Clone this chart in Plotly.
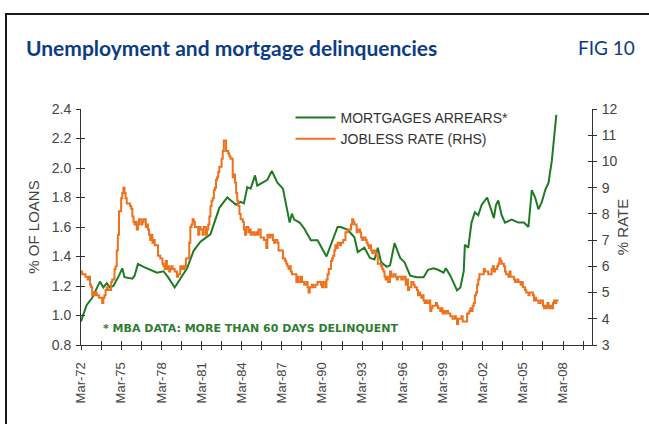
import pandas as pd
import plotly.graph_objects as go

# MBA mortgages more than 60 days delinquent, % of loans (quarterly-ish readings)
arrears_dates = [
    "1972-03", "1972-08", "1973-01", "1973-03", "1973-08", "1973-11", "1974-02", "1974-05",
    "1974-08", "1975-01", "1975-04", "1975-06", "1976-01", "1976-03", "1976-06", "1976-11",
    "1977-05", "1977-11", "1978-05", "1978-09", "1979-03", "1979-08", "1980-02", "1980-08",
    "1981-02", "1981-09", "1981-11", "1982-07", "1983-02", "1983-10", "1984-02", "1984-05",
    "1984-08", "1984-11", "1985-03", "1985-05", "1985-10", "1986-02", "1986-06", "1986-11",
    "1987-04", "1987-07", "1987-10", "1987-12", "1988-02", "1988-07", "1988-11", "1989-05",
    "1989-11", "1990-07", "1991-01", "1991-05", "1991-08", "1992-02", "1992-08", "1992-11",
    "1993-05", "1993-10", "1994-02", "1994-05", "1994-08", "1995-01", "1995-04", "1995-08",
    "1996-01", "1996-05", "1996-10", "1997-04", "1997-10", "1998-02", "1998-07", "1998-11",
    "1999-04", "1999-06", "1999-10", "2000-04", "2000-07", "2000-10", "2000-11", "2001-02",
    "2001-05", "2001-08", "2001-11", "2002-02", "2002-07", "2002-11", "2003-01", "2003-03",
    "2003-05", "2003-08", "2003-11", "2004-05", "2004-11", "2005-04", "2005-08", "2005-11",
    "2006-02", "2006-05", "2006-08", "2006-11", "2007-02", "2007-05", "2007-07", "2007-09",
]
arrears_pct = [
    0.96, 1.07, 1.12, 1.15, 1.23, 1.19, 1.22, 1.19,
    1.20, 1.27, 1.32, 1.26, 1.25, 1.27, 1.35, 1.33,
    1.31, 1.29, 1.30, 1.26, 1.19, 1.25, 1.32, 1.44,
    1.50, 1.54, 1.55, 1.73, 1.80, 1.75, 1.77, 1.76,
    1.87, 1.86, 1.95, 1.88, 1.90, 1.92, 1.98, 1.90,
    1.86, 1.75, 1.63, 1.69, 1.65, 1.63, 1.59, 1.51,
    1.51, 1.40, 1.53, 1.60, 1.60, 1.58, 1.53, 1.43,
    1.46, 1.39, 1.38, 1.46, 1.36, 1.33, 1.34, 1.49,
    1.39, 1.36, 1.27, 1.26, 1.26, 1.31, 1.32, 1.31,
    1.29, 1.32, 1.27, 1.17, 1.19, 1.30, 1.48, 1.46,
    1.63, 1.70, 1.68, 1.75, 1.80, 1.70, 1.66, 1.75,
    1.78, 1.68, 1.63, 1.65, 1.63, 1.63, 1.60, 1.85,
    1.80, 1.72, 1.77, 1.85, 1.90, 2.05, 2.20, 2.36,
]

# Jobless rate, % (monthly, Mar-1972 to Nov-2007)
jobless_start = "1972-03-01"
jobless_rate = [
    5.8, 5.7, 5.7, 5.7, 5.6, 5.6, 5.5, 5.6, 5.3, 5.2,
    4.9, 5.0, 4.9, 5.0, 4.9, 4.9, 4.8, 4.8, 4.8, 4.6, 4.8, 4.9,
    5.1, 5.2, 5.1, 5.1, 5.1, 5.4, 5.5, 5.5, 5.9, 6.0, 6.6, 7.2,
    8.1, 8.1, 8.6, 8.8, 9.0, 8.8, 8.6, 8.4, 8.4, 8.4, 8.3, 8.2,
    7.9, 7.7, 7.6, 7.7, 7.4, 7.6, 7.8, 7.8, 7.6, 7.7, 7.8, 7.8,
    7.5, 7.6, 7.4, 7.2, 7.0, 7.2, 6.9, 7.0, 6.8, 6.8, 6.8, 6.4,
    6.4, 6.3, 6.3, 6.1, 6.0, 5.9, 6.2, 5.9, 6.0, 5.8, 5.9, 6.0,
    5.9, 5.9, 5.8, 5.8, 5.6, 5.7, 5.7, 6.0, 5.9, 6.0, 5.9, 6.0,
    6.3, 6.3, 6.3, 6.9, 7.5, 7.6, 7.8, 7.7, 7.5, 7.5, 7.5, 7.2,
    7.5, 7.4, 7.4, 7.2, 7.5, 7.5, 7.2, 7.4, 7.6, 7.9, 8.3, 8.5,
    8.6, 8.9, 9.0, 9.3, 9.4, 9.6, 9.8, 9.8, 10.1, 10.4, 10.8, 10.8,
    10.4, 10.4, 10.3, 10.2, 10.1, 10.1, 9.4, 9.5, 9.2, 8.8, 8.5, 8.3,
    8.0, 7.8, 7.8, 7.7, 7.4, 7.2, 7.5, 7.5, 7.3, 7.4, 7.2, 7.3,
    7.3, 7.2, 7.2, 7.3, 7.2, 7.4, 7.4, 7.1, 7.1, 7.1, 7.0, 7.0,
    6.7, 7.2, 7.2, 7.1, 7.2, 7.2, 7.0, 6.9, 7.0, 7.0, 6.9, 6.6,
    6.6, 6.6, 6.6, 6.3, 6.3, 6.2, 6.1, 6.0, 5.9, 6.0, 5.8, 5.7,
    5.7, 5.7, 5.7, 5.4, 5.6, 5.4, 5.4, 5.6, 5.4, 5.4, 5.3, 5.3,
    5.4, 5.2, 5.0, 5.2, 5.2, 5.3, 5.2, 5.2, 5.3, 5.3, 5.4, 5.4,
    5.4, 5.3, 5.2, 5.4, 5.4, 5.2, 5.5, 5.7, 5.9, 5.9, 6.2, 6.3,
    6.4, 6.6, 6.8, 6.7, 6.9, 6.9, 6.8, 6.9, 6.9, 7.0, 7.0, 7.3,
    7.3, 7.4, 7.4, 7.4, 7.6, 7.8, 7.7, 7.6, 7.6, 7.3, 7.4, 7.4,
    7.3, 7.1, 7.0, 7.1, 7.1, 7.0, 6.9, 6.8, 6.7, 6.8, 6.6, 6.5,
    6.6, 6.6, 6.5, 6.4, 6.1, 6.1, 6.1, 6.0, 5.9, 5.8, 5.6, 5.5,
    5.6, 5.4, 5.4, 5.8, 5.6, 5.6, 5.7, 5.7, 5.6, 5.5, 5.6, 5.6,
    5.6, 5.5, 5.5, 5.6, 5.6, 5.3, 5.5, 5.1, 5.2, 5.2, 5.4, 5.4,
    5.3, 5.2, 5.2, 5.1, 4.9, 5.0, 4.9, 4.8, 4.9, 4.7, 4.6, 4.7,
    4.6, 4.6, 4.7, 4.3, 4.4, 4.5, 4.5, 4.5, 4.6, 4.5, 4.4, 4.4,
    4.3, 4.4, 4.2, 4.3, 4.2, 4.3, 4.3, 4.2, 4.2, 4.1, 4.1, 4.0,
    4.0, 4.1, 4.0, 3.8, 4.0, 4.0, 4.0, 4.1, 3.9, 3.9, 3.9, 3.9,
    4.2, 4.2, 4.3, 4.4, 4.3, 4.5, 4.6, 4.9, 5.0, 5.3, 5.5, 5.7,
    5.7, 5.7, 5.7, 5.9, 5.8, 5.8, 5.8, 5.7, 5.7, 5.7, 5.9, 6.0,
    5.8, 5.9, 5.9, 6.0, 6.1, 6.3, 6.2, 6.1, 6.1, 6.0, 5.8, 5.7,
    5.7, 5.6, 5.8, 5.6, 5.6, 5.6, 5.5, 5.4, 5.4, 5.5, 5.4, 5.4,
    5.3, 5.4, 5.2, 5.2, 5.1, 5.0, 5.0, 4.9, 5.0, 5.0, 5.0, 4.9,
    4.7, 4.8, 4.7, 4.7, 4.6, 4.6, 4.7, 4.7, 4.5, 4.4, 4.5, 4.4,
    4.6, 4.5, 4.4, 4.5, 4.4, 4.6, 4.7, 4.6, 4.7, 4.7, 4.7,
]
jobless_dates = pd.date_range(jobless_start, periods=len(jobless_rate), freq="MS")

GREEN = "#1f7a24"
ORANGE = "#ee711e"
TITLE_BLUE = "#0b3c85"
AXIS = "#333333"
TICKTXT = "#444444"
x_range = ["1972-03-01", "2010-05-01"]

fig = go.Figure()
fig.add_trace(go.Scatter(
    x=pd.to_datetime(arrears_dates), y=arrears_pct, name="MORTGAGES ARREARS*",
    mode="lines", line=dict(color=GREEN, width=2), yaxis="y",
))
fig.add_trace(go.Scatter(
    x=jobless_dates, y=jobless_rate, name="JOBLESS RATE (RHS)",
    mode="lines", line=dict(color=ORANGE, width=2, shape="hv"), yaxis="y2",
))

tick_font = dict(family="Liberation Sans, Arial, sans-serif", size=14, color=TICKTXT)

fig.update_layout(
    width=649, height=424,
    template="none",
    paper_bgcolor="white", plot_bgcolor="white",
    margin=dict(l=81, r=57, t=109, b=79, pad=0),
    showlegend=True,
    legend=dict(
        x=0.41, y=1.03, xanchor="left", yanchor="top",
        bgcolor="rgba(0,0,0,0)", borderwidth=0,
        font=dict(family="Liberation Sans, Arial, sans-serif", size=14, color="#333333"),
        itemwidth=40, tracegroupgap=0,
    ),
    xaxis=dict(
        type="date", range=x_range, tick0="1972-03-01", dtick="M36",
        tickformat="%b-%y", tickangle=-90, ticks="outside", ticklen=4,
        tickcolor=AXIS, tickwidth=1, showline=True, linecolor=AXIS, linewidth=1,
        showgrid=False, zeroline=False, automargin=False, ticklabelstandoff=7,
        tickfont=dict(family="Liberation Sans, Arial, sans-serif", size=13, color=TICKTXT),
        minor=dict(dtick="M18", tick0="1972-03-01", ticks="outside", ticklen=4,
                   tickcolor=AXIS, tickwidth=1, showgrid=False),
    ),
    xaxis2=dict(
        type="date", overlaying="x", matches="x", anchor="y", side="bottom",
        range=x_range, tick0="1972-03-01", dtick="M18", ticks="inside", ticklen=4,
        tickcolor=AXIS, showticklabels=False, showline=False, showgrid=False,
        zeroline=False, automargin=False,
    ),
    yaxis=dict(
        range=[0.8, 2.4], dtick=0.2, tickformat=".1f", ticks="outside", ticklen=4,
        tickcolor=AXIS, showline=True, linecolor=AXIS, linewidth=1,
        showgrid=False, zeroline=False, automargin=False, ticklabelstandoff=2,
        tickfont=tick_font,
        title=dict(text="% OF LOANS", standoff=8,
                   font=dict(family="Liberation Sans, Arial, sans-serif", size=15, color=TICKTXT)),
    ),
    yaxis2=dict(
        range=[3, 12], dtick=1, overlaying="y", side="right", anchor="x",
        ticks="outside", ticklen=4, tickcolor=AXIS, showline=True, linecolor=AXIS,
        linewidth=1, showgrid=False, zeroline=False, automargin=False,
        ticklabelstandoff=2, tickfont=tick_font,
        title=dict(text="% RATE", standoff=0,
                   font=dict(family="Liberation Sans, Arial, sans-serif", size=15, color=TICKTXT)),
    ),
    yaxis3=dict(
        range=[0.8, 2.4], dtick=0.2, overlaying="y", matches="y", side="left", anchor="x",
        ticks="inside", ticklen=4, tickcolor=AXIS, showticklabels=False,
        showline=False, showgrid=False, zeroline=False, automargin=False,
    ),
    yaxis4=dict(
        range=[3, 12], dtick=1, overlaying="y", matches="y2", side="right", anchor="x",
        ticks="inside", ticklen=4, tickcolor=AXIS, showticklabels=False,
        showline=False, showgrid=False, zeroline=False, automargin=False,
    ),
)

# Invisible helper traces so the inner-tick axes are laid out
fig.add_trace(go.Scatter(x=[], y=[], xaxis="x2", yaxis="y", showlegend=False, hoverinfo="skip"))
fig.add_trace(go.Scatter(x=[], y=[], xaxis="x", yaxis="y3", showlegend=False, hoverinfo="skip"))
fig.add_trace(go.Scatter(x=[], y=[], xaxis="x", yaxis="y4", showlegend=False, hoverinfo="skip"))

# Frame around the figure panel
fig.add_shape(type="rect", xref="paper", yref="paper",
              x0=-0.1468, x1=1.3, y0=-0.5, y1=1.4025,
              line=dict(color="#1a1a1a", width=2), fillcolor="rgba(0,0,0,0)", layer="below")

fig.add_annotation(
    text="<b>Unemployment and mortgage delinquencies</b>",
    xref="paper", yref="paper", x=-0.1115, y=1.2585, xanchor="left", yanchor="middle",
    showarrow=False, font=dict(family="Lato, sans-serif", size=21, color=TITLE_BLUE),
)
fig.add_annotation(
    text="FIG 10", xref="paper", yref="paper", x=1.088, y=1.2585,
    xanchor="right", yanchor="middle", showarrow=False,
    font=dict(family="Lato, sans-serif", size=19, color=TITLE_BLUE),
)
fig.add_annotation(
    text="<b>* MBA DATA: MORE THAN 60 DAYS DELINQUENT</b>",
    xref="paper", yref="paper", x=0.04, y=0.068, xanchor="left", yanchor="middle",
    showarrow=False, font=dict(family="DejaVu Sans, sans-serif", size=11, color="#2e7d32"),
)

fig.write_html("out.html")
